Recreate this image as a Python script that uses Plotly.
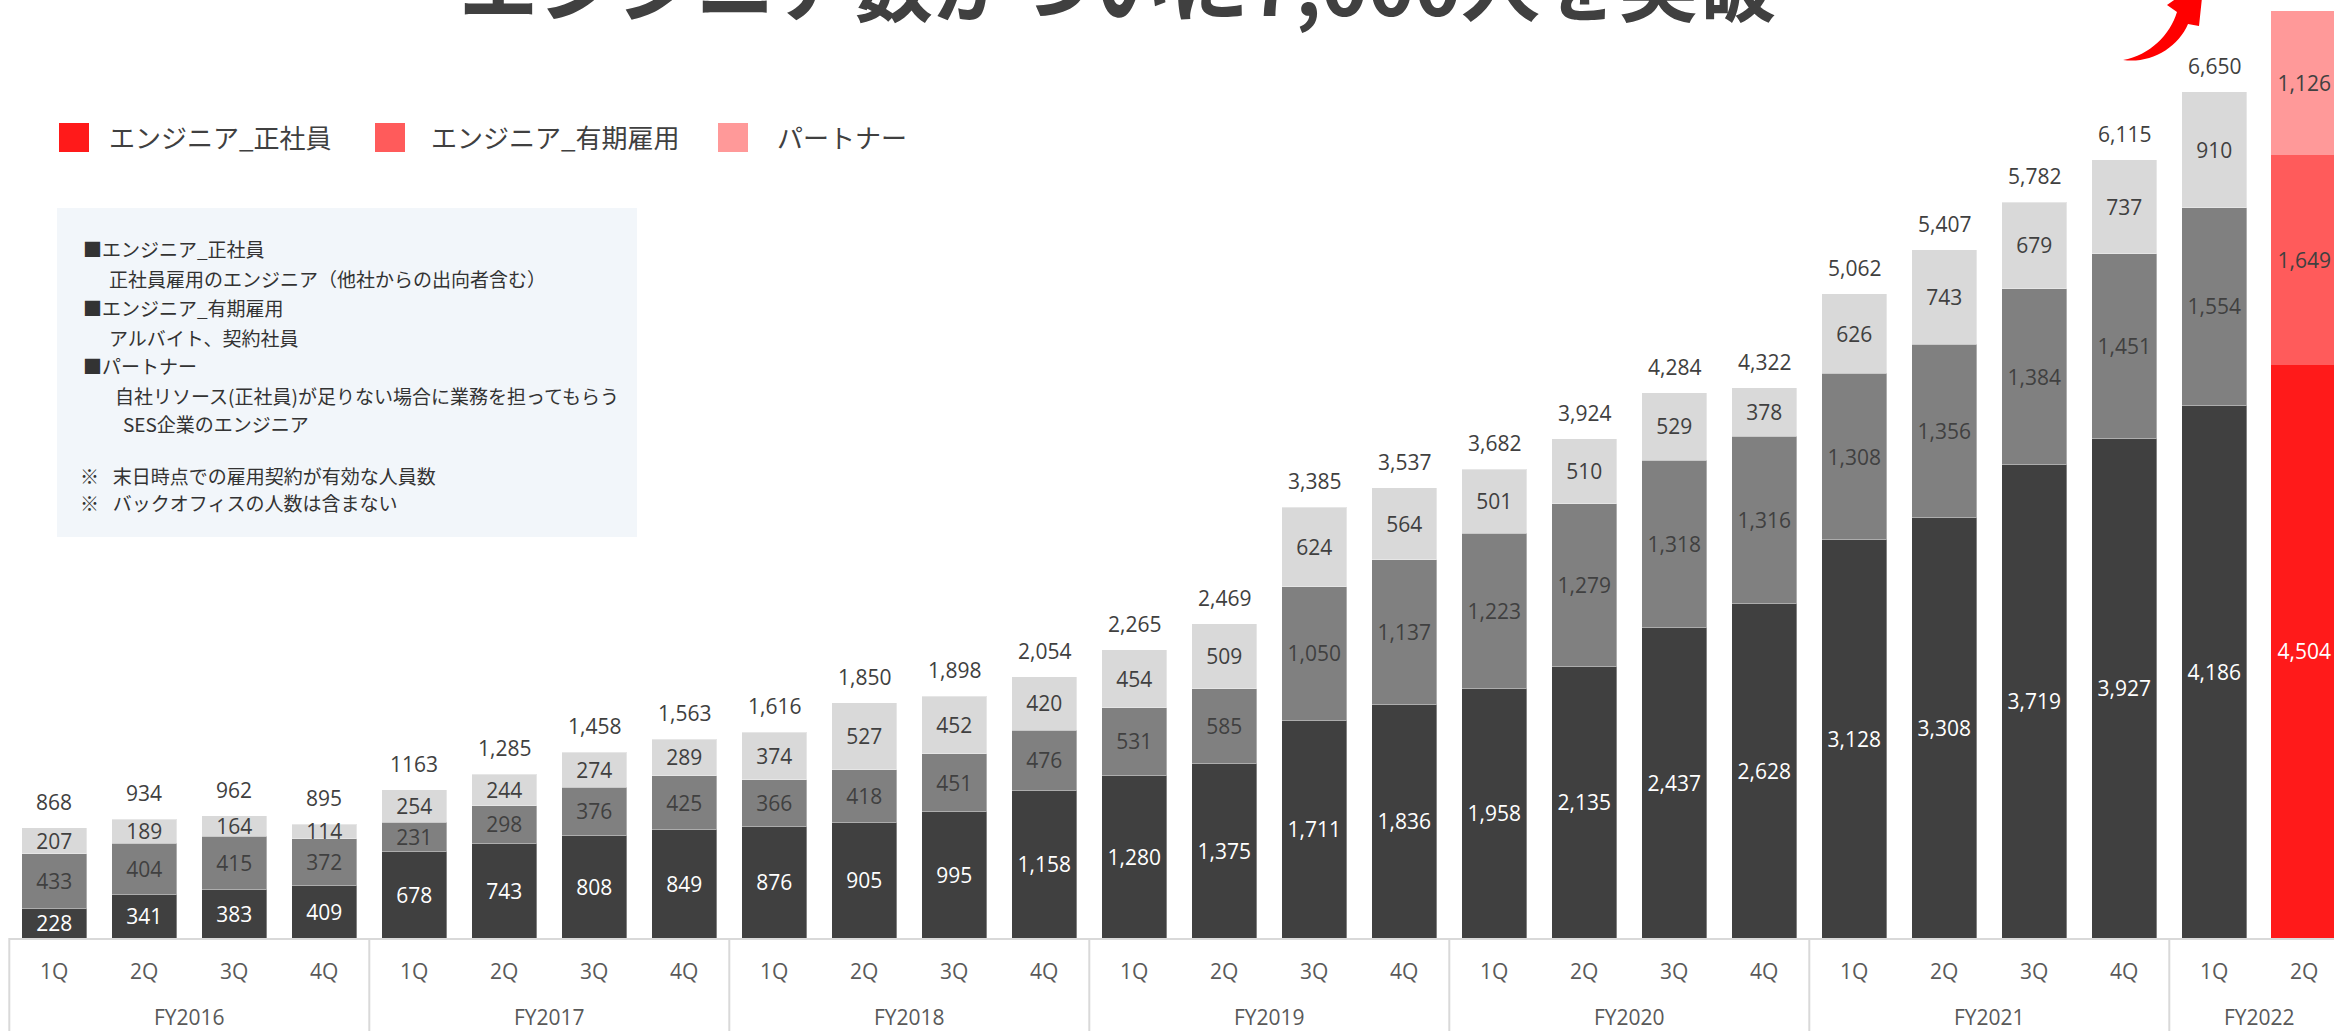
import plotly.graph_objects as go

# ---- data -------------------------------------------------------------
quarters = ["1Q", "2Q", "3Q", "4Q"] * 6 + ["1Q", "2Q"]
fiscal_years = ["FY2016", "FY2017", "FY2018", "FY2019", "FY2020", "FY2021", "FY2022"]
quarters_per_year = [4, 4, 4, 4, 4, 4, 2]

full_time = [228, 341, 383, 409, 678, 743, 808, 849, 876, 905, 995, 1158,
             1280, 1375, 1711, 1836, 1958, 2135, 2437, 2628, 3128, 3308, 3719, 3927,
             4186, 4504]
fixed_term = [433, 404, 415, 372, 231, 298, 376, 425, 366, 418, 451, 476,
              531, 585, 1050, 1137, 1223, 1279, 1318, 1316, 1308, 1356, 1384, 1451,
              1554, 1649]
partner = [207, 189, 164, 114, 254, 244, 274, 289, 374, 527, 452, 420,
           454, 509, 624, 564, 501, 510, 529, 378, 626, 743, 679, 737,
           910, 1126]

series_names = ["エンジニア_正社員", "エンジニア_有期雇用", "パートナー"]
title_text = "エンジニア数がついに7,000人を突破"
note_lines = [
    "■エンジニア_正社員",
    "正社員雇用のエンジニア（他社からの出向者含む）",
    "■エンジニア_有期雇用",
    "アルバイト、契約社員",
    "■パートナー",
    "自社リソース(正社員)が足りない場合に業務を担ってもらう",
    "SES企業のエンジニア",
    "※\u2002\u00a0末日時点での雇用契約が有効な人員数",
    "※\u2002\u00a0バックオフィスの人数は含まない",
]
# totals printed without a thousands separator in the source deck
plain_total_idx = {4}

# ---- styling ----------------------------------------------------------
W, H = 2334, 1031
PLOT_H = 938                     # plot area height (baseline sits at y=938 px)
MB = H - PLOT_H
GRAY = ["#404040", "#808080", "#D9D9D9"]
RED = ["#FF1A1A", "#FF5B5B", "#FF9999"]
LABEL_DARK = "#404040"
NUM_FONT = "Open Sans"
JP_FONT = "Noto Sans CJK JP"
TOTAL_SHIFT = 26                 # px between a bar top and its total label
n = len(quarters)
latest = n - 1                   # most recent quarter is highlighted in red
x_idx = list(range(n))
y_top = PLOT_H / (846.3 / 6650)  # value at the top edge of the plot area


def px(p):
    return p / W


def py(p):
    return (PLOT_H - p) / PLOT_H


fig = go.Figure()

segments = [full_time, fixed_term, partner]
text_colors = ["white", LABEL_DARK, LABEL_DARK]
for k, (vals, name) in enumerate(zip(segments, series_names)):
    fill = [RED[k] if i == latest else GRAY[k] for i in x_idx]
    edge = [RED[k] if i == latest else "rgba(255,255,255,0.35)" for i in x_idx]
    fig.add_trace(go.Bar(
        x=x_idx, y=vals, name=name,
        marker=dict(color=fill, line=dict(color=edge, width=1)),
        texttemplate="%{y:,}", textposition="inside", insidetextanchor="middle",
        textangle=0, constraintext="none",
        textfont=dict(family=NUM_FONT, size=21, color=text_colors[k]),
        showlegend=False, hoverinfo="skip",
    ))

annotations = []
# stacked totals above each bar (only where the label fits on the page)
totals = [a + b + c for a, b, c in zip(full_time, fixed_term, partner)]
units_per_px = y_top / PLOT_H
for i, t in enumerate(totals):
    if t + (TOTAL_SHIFT + 12) * units_per_px > y_top:
        continue
    label = str(t) if i in plain_total_idx else f"{t:,}"
    annotations.append(dict(x=i, y=t, xref="x", yref="y", text=label, showarrow=False,
                            yshift=TOTAL_SHIFT, yanchor="middle",
                            font=dict(family=NUM_FONT, size=21, color=LABEL_DARK)))

# two-level category labels (quarter / fiscal year) with group dividers
shapes = []
for i, q in enumerate(quarters):
    annotations.append(dict(x=i, y=py(971), xref="x", yref="paper", text=q, showarrow=False,
                            yanchor="middle", font=dict(family=NUM_FONT, size=21, color="#595959")))
start = 0
for fy, cnt in zip(fiscal_years, quarters_per_year):
    annotations.append(dict(x=start + (cnt - 1) / 2, y=py(1017), xref="x", yref="paper",
                            text=fy, showarrow=False, yanchor="middle",
                            font=dict(family=NUM_FONT, size=21, color="#595959")))
    shapes.append(dict(type="line", xref="x", yref="paper", x0=start - 0.5, x1=start - 0.5,
                       y0=0, y1=py(H), line=dict(color="#D9D9D9", width=2)))
    start += cnt
shapes.append(dict(type="line", xref="x", yref="paper", x0=-0.5, x1=n - 0.5, y0=py(939), y1=py(939),
                   line=dict(color="#D9D9D9", width=2)))

# legend
legend_items = [(59, 107), (375, 429), (718, 775)]
for (sx, tx), name, col in zip(legend_items, series_names, RED):
    shapes.append(dict(type="rect", xref="paper", yref="paper", x0=px(sx), x1=px(sx + 30),
                       y0=py(152), y1=py(123), fillcolor=col, line=dict(width=0)))
    annotations.append(dict(x=px(tx), y=py(137), xref="paper", yref="paper", text=name,
                            showarrow=False, xanchor="left", yanchor="middle",
                            font=dict(family=JP_FONT, size=26, color=LABEL_DARK)))

# definitions box
shapes.append(dict(type="rect", xref="paper", yref="paper", x0=px(57), x1=px(637),
                   y0=py(537), y1=py(208), fillcolor="#F2F6FA", line=dict(width=0), layer="below"))
note_pos = [(81, 249), (107, 278), (81, 307), (107, 337), (81, 366),
            (113, 395), (121, 424), (78, 475), (78, 502)]
for line, (lx, ly) in zip(note_lines, note_pos):
    annotations.append(dict(x=px(lx), y=py(ly), xref="paper", yref="paper", text=line,
                            showarrow=False, xanchor="left", yanchor="middle",
                            font=dict(family=JP_FONT, size=19, color="#333333")))

# headline (runs off the top edge of the page)
annotations.append(dict(x=px(1118), y=py(41), xref="paper", yref="paper", text=title_text,
                        showarrow=False, xanchor="center", yanchor="bottom",
                        font=dict(family=JP_FONT, size=79, color=LABEL_DARK, weight="bold")))

# curved red growth arrow
arrow_pts = [("M", [(2123, 60)]),
             ("C", [(2150, 64), (2178, 48), (2188, 24)]),
             ("L", [(2199, 26)]),
             ("L", [(2204, -21)]),
             ("L", [(2167, 5)]),
             ("L", [(2177, 12)]),
             ("C", [(2170, 35), (2150, 55), (2123, 60)])]
path = " ".join(cmd + " " + " ".join(f"{px(a):.5f},{py(b):.5f}" for a, b in pts)
                for cmd, pts in arrow_pts) + " Z"
shapes.append(dict(type="path", xref="paper", yref="paper", path=path,
                   fillcolor="#FF0000", line=dict(width=0)))

fig.update_layout(
    width=W, height=H,
    margin=dict(l=0, r=0, t=0, b=MB, pad=0),
    barmode="stack", bargap=0.278,
    paper_bgcolor="white", plot_bgcolor="white",
    xaxis=dict(range=[-54.3 / 90, (W - 54.3) / 90], visible=False),
    yaxis=dict(range=[0, y_top], visible=False),
    annotations=annotations, shapes=shapes,
)

fig.write_html("out.html")
